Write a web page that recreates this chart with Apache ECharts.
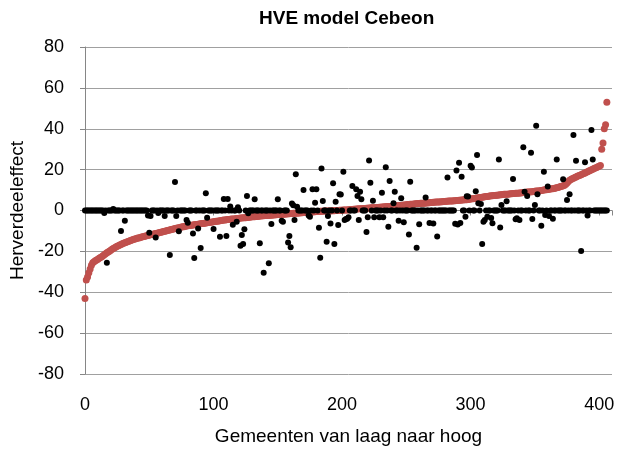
<!DOCTYPE html>
<html>
<head>
<meta charset="utf-8">
<title>HVE model Cebeon</title>
<script src="https://cdn.jsdelivr.net/npm/echarts@6/dist/echarts.min.js"></script>
<style>
  html, body { margin: 0; padding: 0; background: #fff; }
  #chart { width: 619px; height: 450px; }
</style>
</head>
<body>
<div id="chart"></div>
<script>
  // gemeenten gesorteerd van laag naar hoog (rode reeks), 407 stuks
  var sortedEffect = [
    -43, -34, -32.5, -30.4, -28.6, -26.8, -25.6, -25.1, -24.6, -24.2,
    -23.8, -23.4, -23.0, -22.6, -22.1, -21.6, -21.2, -20.7, -20.3, -19.9,
    -19.4, -19.0, -18.6, -18.2, -17.9, -17.5, -17.2, -16.9, -16.6, -16.3,
    -16.0, -15.8, -15.5, -15.3, -15.0, -14.8, -14.5, -14.3, -14.1, -13.9,
    -13.7, -13.5, -13.4, -13.2, -13.0, -12.9, -12.7, -12.5, -12.4, -12.2,
    -12.0, -11.9, -11.7, -11.6, -11.4, -11.3, -11.1, -11.0, -10.8, -10.7,
    -10.5, -10.3, -10.2, -10.0, -9.8, -9.7, -9.5, -9.3, -9.2, -9.0,
    -8.8, -8.7, -8.6, -8.4, -8.3, -8.1, -8.0, -7.9, -7.7, -7.6,
    -7.5, -7.4, -7.3, -7.2, -7.1, -7.0, -6.9, -6.8, -6.7, -6.6,
    -6.5, -6.4, -6.3, -6.2, -6.1, -6.0, -5.9, -5.8, -5.7, -5.6,
    -5.5, -5.4, -5.3, -5.2, -5.1, -5.0, -4.9, -4.8, -4.7, -4.6,
    -4.5, -4.4, -4.4, -4.3, -4.2, -4.2, -4.1, -4.0, -3.9, -3.9,
    -3.8, -3.7, -3.7, -3.6, -3.5, -3.5, -3.4, -3.3, -3.3, -3.2,
    -3.1, -3.1, -3.0, -2.9, -2.9, -2.8, -2.7, -2.7, -2.6, -2.6,
    -2.5, -2.5, -2.4, -2.4, -2.3, -2.3, -2.2, -2.2, -2.1, -2.1,
    -2.0, -2.0, -1.9, -1.9, -1.8, -1.8, -1.7, -1.7, -1.6, -1.6,
    -1.5, -1.5, -1.4, -1.4, -1.3, -1.3, -1.2, -1.2, -1.1, -1.1,
    -1.0, -1.0, -0.9, -0.9, -0.8, -0.8, -0.7, -0.7, -0.6, -0.6,
    -0.5, -0.5, -0.5, -0.4, -0.4, -0.4, -0.3, -0.3, -0.3, -0.2,
    -0.2, -0.2, -0.1, -0.1, -0.1, 0.0, 0.0, 0.0, 0.1, 0.1,
    0.1, 0.2, 0.2, 0.3, 0.3, 0.4, 0.4, 0.5, 0.5, 0.6,
    0.6, 0.7, 0.7, 0.8, 0.8, 0.9, 0.9, 1.0, 1.0, 1.1,
    1.1, 1.2, 1.2, 1.3, 1.3, 1.4, 1.4, 1.5, 1.5, 1.6,
    1.6, 1.7, 1.7, 1.8, 1.8, 1.9, 1.9, 2.0, 2.0, 2.1,
    2.1, 2.2, 2.3, 2.3, 2.4, 2.5, 2.5, 2.6, 2.7, 2.7,
    2.8, 2.9, 2.9, 3.0, 3.1, 3.1, 3.2, 3.3, 3.3, 3.4,
    3.4, 3.5, 3.5, 3.6, 3.6, 3.7, 3.7, 3.8, 3.8, 3.9,
    3.9, 4.0, 4.0, 4.1, 4.1, 4.2, 4.2, 4.3, 4.3, 4.4,
    4.4, 4.5, 4.5, 4.6, 4.6, 4.7, 4.7, 4.8, 4.8, 4.9,
    4.9, 5.0, 5.0, 5.1, 5.1, 5.2, 5.2, 5.3, 5.4, 5.5,
    5.6, 5.7, 5.8, 5.9, 6.0, 6.1, 6.2, 6.3, 6.4, 6.5,
    6.6, 6.7, 6.8, 6.9, 7.0, 7.1, 7.2, 7.2, 7.3, 7.4,
    7.5, 7.5, 7.6, 7.7, 7.7, 7.8, 7.9, 7.9, 8.0, 8.0,
    8.1, 8.2, 8.2, 8.3, 8.3, 8.4, 8.4, 8.5, 8.6, 8.6,
    8.7, 8.8, 8.8, 8.9, 9.0, 9.0, 9.1, 9.2, 9.2, 9.3,
    9.4, 9.5, 9.5, 9.6, 9.7, 9.8, 9.9, 10.0, 10.1, 10.2,
    10.3, 10.4, 10.5, 10.6, 10.7, 10.8, 11.0, 11.1, 11.3, 11.5,
    11.7, 11.9, 12.1, 12.4, 12.8, 13.5, 14.2, 14.8, 15.2, 15.5,
    15.8, 16.1, 16.4, 16.7, 17.0, 17.2, 17.5, 17.8, 18.1, 18.4,
    18.7, 19.0, 19.3, 19.6, 19.9, 20.2, 20.5, 20.8, 21.1, 21.4,
    21.7, 22.0, 30.0, 33.0, 40.0, 42.0, 53.0
  ];

  // Cebeon-uitkomst per gemeente in dezelfde volgorde (zwarte reeks)
  var cebeonEffect = [
    0, 0, 0, 0, 0, 0, 0, 0, 0, 0,
    0, 0, 0, 0, 0, -1.2, 0, -25.6, 0, 0,
    0, 0, 0.7, 0, 0, 0, 0, 0, -10, 0,
    0, -5, 0, 0, 0, 0, 0, 0, 0, 0,
    0, 0, 0, 0, 0, 0, 0, 0, 0, -2.4,
    -10.9, -2.7, 0, 0, 0, -13.2, 0, -1.2, 0, 0,
    0, 0, -2.7, 0, 0, 0, -21.8, 0, 0, 0,
    14, -2.7, 0, -10.2, 0, 0, 0, 0, 0, -4.6,
    -6, 0, 0, 0, -11.3, -23.3, 0, 0, -8.8, 0,
    -18.3, 0, 0, 0, 8.4, -3.5, 0, 0, 0, 0,
    -9.1, 0, 0, 0, 0, -12.8, 0, 0, 5.6, 0,
    -12.5, 5.6, 0, 1.9, 0, -7, 0, 0, -5.5, 1.6,
    0, -17.2, -12, -16.4, -9.2, 0, 7.1, -1.4, 0, 0,
    0, 0, 5.5, 0, 0, 0, -16, 0, 0, -30.4,
    0, 0, 0, -25.8, 0, -6.6, 0, 0, 0, 0,
    5.5, 0, 0, -5, -5.5, 0, 0, 0, -15.7, -12.5,
    -18, 3.4, 2.6, -4.6, 17.7, 1.8, 0, 0, 0, 0,
    10, 0, 0, 0, -2.5, -3, 0, 10.4, 0, 3.8,
    10.4, 0, -8.4, -23.1, 20.6, 4.6, 0, 0, -15.3, -2.7,
    0, -6.3, 0, 13.3, -16.4, 4.3, 0, -7.1, 8, 7.8,
    0, 18.9, -4.6, -4.2, -4, -3.3, 0, 0, 12, 0,
    0, 10.4, 7.1, -4.6, 9.2, 5.5, 0, 0, 0, -10.5,
    -3.3, 24.5, 13.6, 0, 4.8, -3.3, 0, 0, 0, -3.3,
    0, 8.7, -3.3, 0, 21.2, 0, -7.9, 14.4, 0, 0,
    3.5, 9.2, 0, 0, -5, 0, 6, 0, -5.8, 0,
    0, 0, -11.7, 14.1, 0, 0, 0, 0, -18.2, 0,
    -6.7, 0, 0, 0, 0, 6.4, 0, 0, -6.1, 0,
    0, -6.3, 0, 0, -12.7, 0, 0, 0, 0, 0,
    0, 0, 16.2, 0, 0, 0, 0, 0, -6.5, 19.6,
    -6.8, 23.4, -6.1, 16.5, 0, 0, -3, 7, 6.8, 0,
    21.9, 21.1, 0, 0, 9.4, 27.1, 3.5, 0, 3.2, -16.4,
    -5.5, -4.6, 0, -3, 0, 0, -3.7, -6.2, 0, 0,
    0, 0, 25, -8.3, 2.7, 0, 0, 0, 4.5, 0,
    0, 0, 0, 15.4, 0, -4.3, -3.8, 0, -4.6, 0,
    0, 31, 9.2, 0, 7.1, 0, 0, 28.3, -4.2, 0,
    2.7, 41.5, 8, 0, 0, -7.5, 0, 19, -2.2, 0,
    11.7, -2.7, 0, 0, -4, 0, 0, 25, 0, 0,
    0, 0, 15.3, 0, 0, 5.1, 0, 7.9, 0, 0,
    36.9, 0, 24.4, 0, 0, 0, -19.8, 0, 0, 23.6,
    0, -2.5, 0, 0, 39.4, 25, 0, 0, 0, 0,
    0, 0, 0, 0, 0, 0, 0
  ];

  var xTicks = [0, 100, 200, 300, 400];
  var yTicks = [-80, -60, -40, -20, 0, 20, 40, 60, 80];

  var font = 'Liberation Sans, Arial, sans-serif';
  var gray = '#868686';

  var chart = echarts.init(document.getElementById('chart'));

  var redData = sortedEffect.map(function (v, i) { return [i, v]; });
  var blackData = cebeonEffect.map(function (v, i) { return [i, v]; });

  var option = {
    animation: false,
    backgroundColor: '#fff',
    title: {
      text: 'HVE model Cebeon',
      left: 254,
      top: 4,
      textStyle: { fontFamily: font, fontSize: 19, fontWeight: 'bold', color: '#000' }
    },
    grid: { left: 85, right: 7, top: 47, bottom: 76, outerBoundsMode: 'none' },
    xAxis: [{
      // lijn op nul met streepjes
      type: 'value',
      min: 0,
      max: 410,
      interval: 100,
      axisLine: { show: true, onZero: true, lineStyle: { color: gray, width: 1 } },
      axisTick: {
        show: true, length: 5, lineStyle: { color: gray },
        interval: function (i, v) { return xTicks.indexOf(v) >= 0; }
      },
      axisLabel: { show: false },
      splitLine: { show: false }
    }, {
      // labels onderaan
      type: 'value',
      position: 'bottom',
      min: 0,
      max: 410,
      interval: 100,
      axisLine: { show: false, onZero: false },
      axisTick: { show: false },
      splitLine: { show: false },
      axisLabel: {
        margin: 22,
        showMaxLabel: false,
        fontFamily: font,
        fontSize: 18,
        color: '#000',
        formatter: function (v) { return xTicks.indexOf(v) >= 0 ? String(v) : ''; }
      },
      name: 'Gemeenten van laag naar hoog',
      nameLocation: 'middle',
      nameGap: 53,
      nameTextStyle: { fontFamily: font, fontSize: 19, color: '#000' }
    }],
    yAxis: {
      type: 'value',
      min: yTicks[0],
      max: yTicks[yTicks.length - 1],
      interval: 20,
      axisLine: { show: true, lineStyle: { color: gray, width: 1 } },
      axisTick: { show: true, length: 5, lineStyle: { color: gray } },
      axisLabel: { margin: 21, fontFamily: font, fontSize: 18, color: '#000' },
      splitLine: { show: true, lineStyle: { color: '#a0a0a0', width: 1 } },
      name: 'Herverdeeleffect',
      nameLocation: 'middle',
      nameGap: 58,
      nameTextStyle: { fontFamily: font, fontSize: 19, color: '#000' }
    },
    series: [{
      name: 'gesorteerd',
      type: 'scatter',
      xAxisIndex: 0,
      data: redData,
      symbolSize: 7,
      itemStyle: { color: '#C0504D', opacity: 1 },
      z: 2
    }, {
      name: 'Cebeon',
      type: 'scatter',
      xAxisIndex: 0,
      data: blackData,
      symbolSize: 6,
      itemStyle: { color: '#000', opacity: 1 },
      z: 3
    }]
  };

  chart.setOption(option);
</script>
</body>
</html>
